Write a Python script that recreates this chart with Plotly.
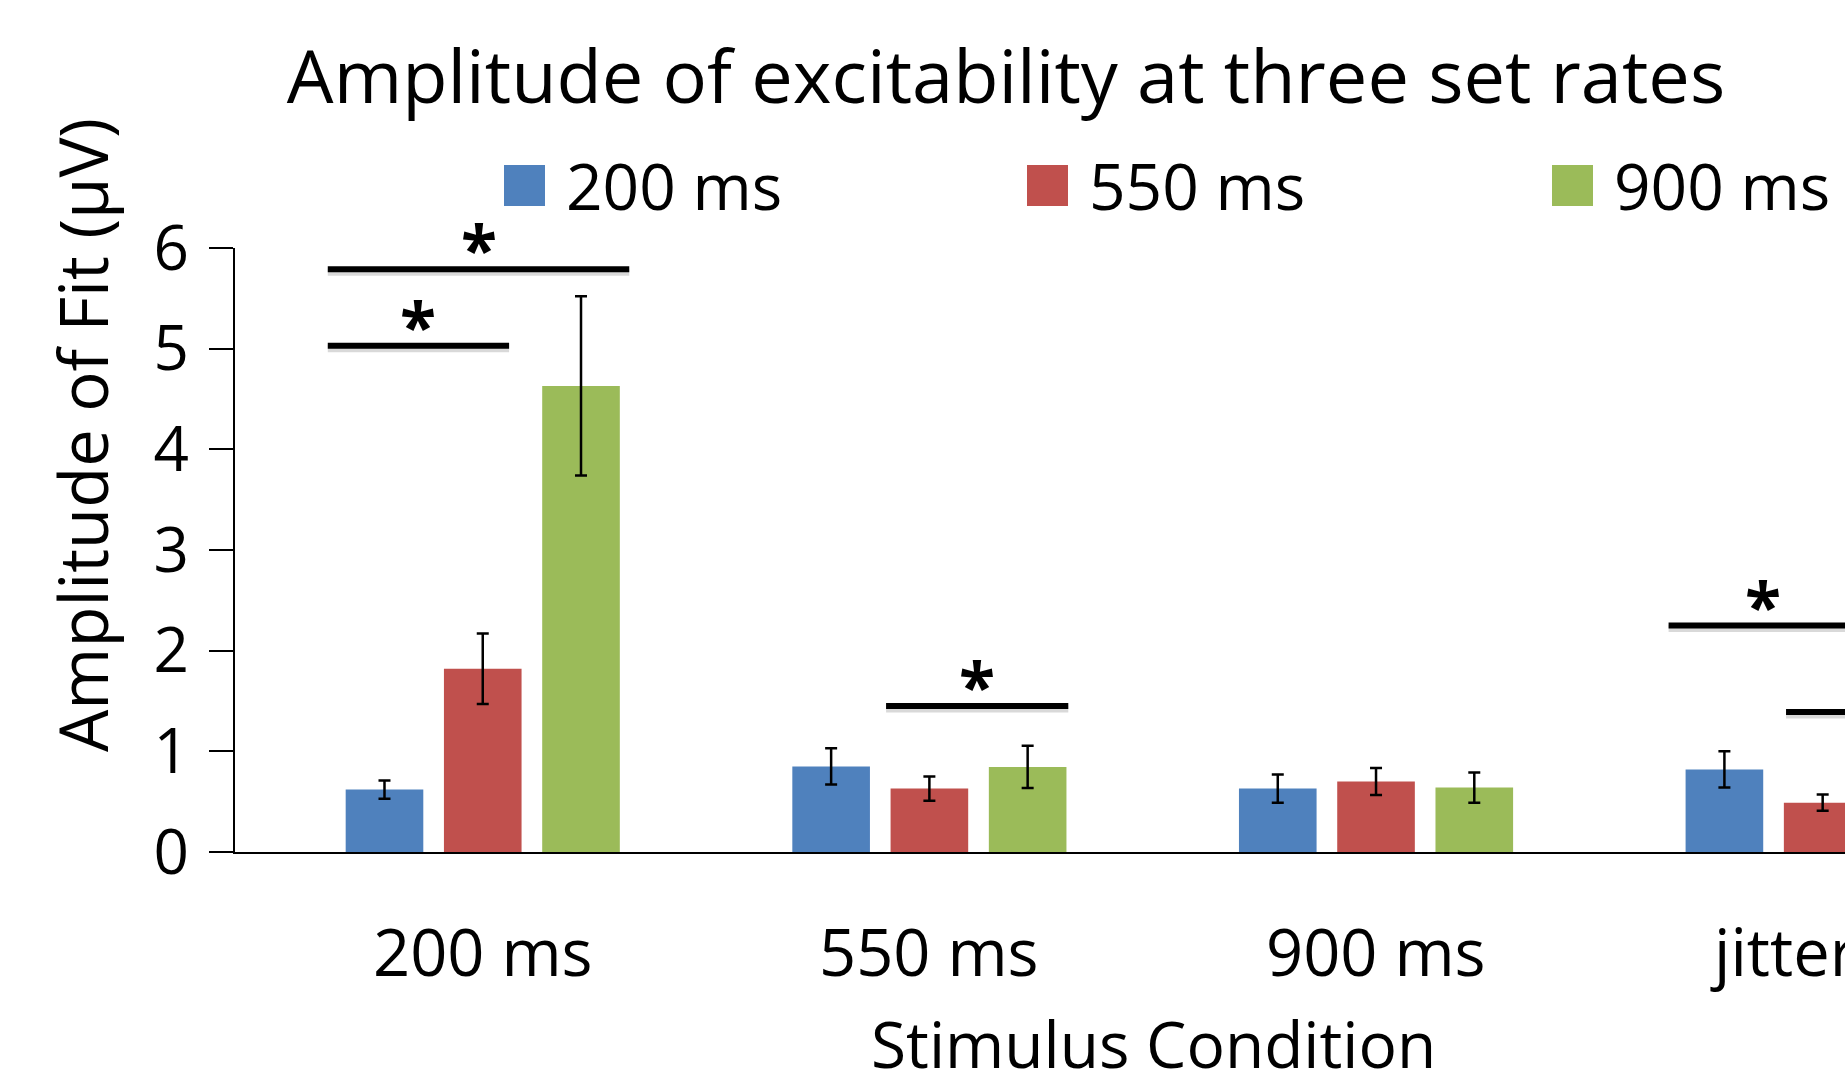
import plotly.graph_objects as go

categories = ["200 ms", "550 ms", "900 ms", "jitter"]
series_names = ["200 ms", "550 ms", "900 ms"]
series_colors = ["#4F81BD", "#C0504D", "#9BBB59"]
vals_200 = [0.62, 0.85, 0.63, 0.82]
vals_550 = [1.82, 0.63, 0.70, 0.49]
vals_900 = [4.63, 0.845, 0.64, None]
err_200 = [0.09, 0.18, 0.14, 0.18]
err_550 = [0.35, 0.12, 0.135, 0.08]
err_900 = [0.89, 0.21, 0.15, None]

# significance bars (x in category units, y in µV)
sig_x0 = [-0.347, -0.347, 0.903, 2.655, 2.918]
sig_x1 = [0.328, 0.059, 1.311, 3.076, 3.45]
sig_y = [5.79, 5.03, 1.45, 2.25, 1.39]

y_ticks = [0, 1, 2, 3, 4, 5, 6]

FONT = "Open Sans"
W, H = 1845, 1081
L, R, T, B = 235, 0, 248, 229

fig = go.Figure()
for name, col, v, e in zip(series_names, series_colors,
                           [vals_200, vals_550, vals_900],
                           [err_200, err_550, err_900]):
    fig.add_trace(go.Bar(
        x=list(range(len(categories))), y=v, name=name,
        marker=dict(color=col, line=dict(width=0)),
        error_y=dict(type="data", array=e, visible=True, color="black",
                     thickness=2.5, width=6),
        showlegend=False,
    ))

shapes = []
annotations = []
for x0, x1, y in zip(sig_x0, sig_x1, sig_y):
    shapes.append(dict(type="line", xref="x", yref="y", x0=x0, x1=x1, y0=y - 0.03, y1=y - 0.03,
                       line=dict(color="rgba(0,0,0,0.15)", width=7)))
    shapes.append(dict(type="line", xref="x", yref="y", x0=x0, x1=x1, y0=y, y1=y,
                       line=dict(color="black", width=6)))
    annotations.append(dict(x=(x0 + x1) / 2, y=y, xref="x", yref="y", text="*",
                            showarrow=False, yanchor="bottom", yshift=-26,
                            font=dict(family=FONT, size=66, color="black", weight="bold")))

pw = W - L - R
ph = H - T - B

# category labels (the last one is nudged left to stay in the chart area, as in the original)
for i, c in enumerate(categories):
    annotations.append(dict(x=i, y=(H - B - 951) / ph, xref="x", yref="paper", text=c,
                            showarrow=False, xanchor="center", yanchor="middle",
                            xshift=(-40 if i == len(categories) - 1 else 0),
                            font=dict(family=FONT, size=65, color="black")))

# legend drawn manually
leg_sq_left = [504, 1027, 1552]
for px, name, col in zip(leg_sq_left, series_names, series_colors):
    shapes.append(dict(type="rect", xref="paper", yref="paper",
                       x0=(px - L) / pw, x1=(px + 41 - L) / pw,
                       y0=(H - B - 206) / ph, y1=(H - B - 165) / ph,
                       fillcolor=col, line=dict(width=0)))
    annotations.append(dict(x=(px + 60 - L) / pw, y=(H - B - 185) / ph, xref="paper", yref="paper",
                            text=name, showarrow=False, xanchor="left", yanchor="middle",
                            font=dict(family=FONT, size=64, color="black")))

annotations.append(dict(x=(82 - L) / pw, y=(H - B - 435) / ph, xref="paper", yref="paper",
                        text="Amplitude of Fit (µV)", textangle=-90, showarrow=False,
                        xanchor="center", yanchor="middle",
                        font=dict(family=FONT, size=67, color="black")))
annotations.append(dict(x=(1153 - L) / pw, y=(H - B - 1043) / ph, xref="paper", yref="paper",
                        text="Stimulus Condition", showarrow=False,
                        xanchor="center", yanchor="middle",
                        font=dict(family=FONT, size=64, color="black")))

fig.update_layout(
    width=W, height=H,
    margin=dict(l=L, r=R, t=T, b=B, pad=0),
    paper_bgcolor="white", plot_bgcolor="white",
    barmode="group", bargap=0.34, bargroupgap=0.21,
    title=dict(text="Amplitude of excitability at three set rates",
               x=1006 / W, y=1 - 77 / H, xanchor="center", yanchor="middle",
               font=dict(family=FONT, size=74, color="black")),
    shapes=shapes, annotations=annotations,
    font=dict(family=FONT, color="black"),
)
fig.update_xaxes(
    range=[-0.5547, 3.050], tickmode="array",
    tickvals=list(range(len(categories))), showticklabels=False,
    showline=True, linecolor="black", linewidth=2, ticks="",
    showgrid=False, zeroline=False,
)
fig.update_yaxes(
    range=[0, 6], tickvals=y_ticks, showline=True, linecolor="black", linewidth=1.5,
    ticks="outside", ticklen=24, tickwidth=1.5, tickcolor="black",
    showgrid=False, zeroline=False, tickfont=dict(family=FONT, size=62),
    ticklabelstandoff=8,
)
fig.write_html("out.html")
